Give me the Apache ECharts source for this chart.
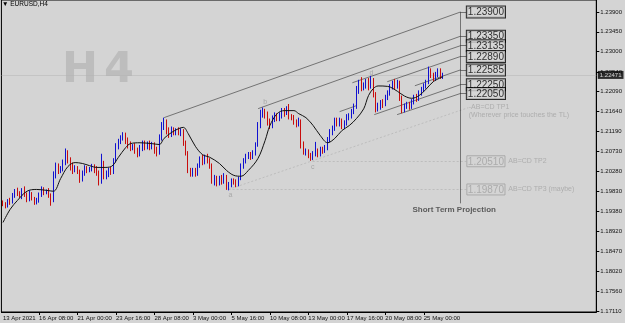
<!DOCTYPE html>
<html>
<head>
<meta charset="utf-8">
<title>EURUSD H4</title>
<script src="https://cdn.jsdelivr.net/npm/echarts@6.0.0/dist/echarts.min.js"></script>
<style>
    html, body { margin: 0; padding: 0; background: #d4d4d4; }
    #chart { width: 625px; height: 323px; }
</style>
</head>
<body>
<div id="chart"></div>
<script>
// bar 0 = 13 Apr 2021 20:00, one bar = 4 hours (no weekend bars)
var dateTicks = [15, 31, 47, 63, 79, 95, 111, 127, 143, 159, 175];
var dateLabels = ['16 Apr 08:00', '21 Apr 00:00', '23 Apr 16:00', '28 Apr 08:00', '3 May 00:00',
    '5 May 16:00', '10 May 08:00', '13 May 00:00', '17 May 16:00', '20 May 08:00', '25 May 00:00'];
var firstLabel = '13 Apr 2021';

var priceTicks = ['1.23900', '1.23450', '1.23000', '1.22540', '1.22090', '1.21640', '1.21190', '1.20730',
    '1.20280', '1.19830', '1.19380', '1.18920', '1.18470', '1.18020', '1.17560', '1.17110'];
var lastPrice = 1.22471;

// open, close, low, high
var ohlc = [
    [1.1958, 1.1953, 1.1949, 1.1962],
    [1.1953, 1.1948, 1.1944, 1.1958], [1.1948, 1.1962, 1.1946, 1.1965], [1.1962, 1.1958, 1.1952, 1.1968],
    [1.1958, 1.1975, 1.1955, 1.1979], [1.1975, 1.1981, 1.1968, 1.1988], [1.1981, 1.1979, 1.1972, 1.1991],
    [1.1979, 1.1972, 1.1968, 1.1983], [1.1972, 1.1984, 1.1965, 1.1990], [1.1984, 1.1976, 1.1970, 1.1994],
    [1.1976, 1.1965, 1.1958, 1.1980], [1.1965, 1.1977, 1.1960, 1.1985], [1.1977, 1.1966, 1.1962, 1.1981],
    [1.1966, 1.1958, 1.1952, 1.1970], [1.1958, 1.1962, 1.1953, 1.1968], [1.1962, 1.1975, 1.1957, 1.1980],
    [1.1975, 1.1988, 1.1970, 1.1994], [1.1988, 1.1980, 1.1974, 1.1992], [1.1980, 1.1983, 1.1976, 1.1987],
    [1.1983, 1.1975, 1.1968, 1.1990], [1.1975, 1.1962, 1.1950, 1.1978], [1.1962, 1.2020, 1.1958, 1.2028],
    [1.2020, 1.2040, 1.2012, 1.2048], [1.2040, 1.2030, 1.2022, 1.2046], [1.2030, 1.2034, 1.2024, 1.2040],
    [1.2034, 1.2048, 1.2028, 1.2055], [1.2048, 1.2072, 1.2042, 1.2080], [1.2072, 1.2055, 1.2046, 1.2076],
    [1.2055, 1.2040, 1.2030, 1.2060], [1.2040, 1.2032, 1.2022, 1.2048], [1.2032, 1.2035, 1.2026, 1.2042],
    [1.2035, 1.2028, 1.2022, 1.2040], [1.2028, 1.2010, 1.2002, 1.2032], [1.2010, 1.2022, 1.2005, 1.2030],
    [1.2022, 1.2035, 1.2018, 1.2042], [1.2035, 1.2030, 1.2024, 1.2040], [1.2030, 1.2034, 1.2026, 1.2038],
    [1.2034, 1.2038, 1.2028, 1.2045], [1.2038, 1.2032, 1.2024, 1.2044], [1.2032, 1.2025, 1.2018, 1.2040],
    [1.2025, 1.2004, 1.1996, 1.2030], [1.2004, 1.2045, 1.2000, 1.2068], [1.2045, 1.2016, 1.2010, 1.2052],
    [1.2016, 1.2022, 1.2010, 1.2030], [1.2022, 1.2030, 1.2015, 1.2036], [1.2030, 1.2026, 1.2020, 1.2038],
    [1.2026, 1.2052, 1.2022, 1.2058], [1.2052, 1.2085, 1.2048, 1.2092], [1.2085, 1.2097, 1.2078, 1.2102],
    [1.2097, 1.2104, 1.2090, 1.2110], [1.2104, 1.2112, 1.2098, 1.2117], [1.2112, 1.2098, 1.2090, 1.2116],
    [1.2098, 1.2090, 1.2080, 1.2105], [1.2090, 1.2082, 1.2074, 1.2096], [1.2082, 1.2085, 1.2076, 1.2090],
    [1.2085, 1.2075, 1.2068, 1.2092], [1.2075, 1.2066, 1.2060, 1.2082], [1.2066, 1.2080, 1.2062, 1.2088],
    [1.2080, 1.2092, 1.2074, 1.2098], [1.2092, 1.2082, 1.2076, 1.2098], [1.2082, 1.2092, 1.2078, 1.2096],
    [1.2092, 1.2084, 1.2076, 1.2098], [1.2084, 1.2090, 1.2078, 1.2095], [1.2090, 1.2078, 1.2068, 1.2094],
    [1.2078, 1.2070, 1.2062, 1.2084], [1.2070, 1.2105, 1.2066, 1.2112], [1.2105, 1.2130, 1.2098, 1.2140],
    [1.2130, 1.2138, 1.2122, 1.2150], [1.2138, 1.2120, 1.2112, 1.2146], [1.2120, 1.2112, 1.2104, 1.2128],
    [1.2112, 1.2122, 1.2106, 1.2130], [1.2122, 1.2116, 1.2110, 1.2128], [1.2116, 1.2121, 1.2110, 1.2126],
    [1.2121, 1.2116, 1.2110, 1.2128], [1.2116, 1.2120, 1.2108, 1.2126], [1.2120, 1.2092, 1.2086, 1.2124],
    [1.2092, 1.2070, 1.2064, 1.2098], [1.2070, 1.2030, 1.2024, 1.2074], [1.2030, 1.2020, 1.2016, 1.2036],
    [1.2020, 1.2030, 1.2016, 1.2036], [1.2030, 1.2022, 1.2016, 1.2036], [1.2022, 1.2040, 1.2018, 1.2046],
    [1.2040, 1.2055, 1.2036, 1.2062], [1.2055, 1.2048, 1.2042, 1.2066], [1.2048, 1.2060, 1.2044, 1.2066],
    [1.2060, 1.2052, 1.2046, 1.2068], [1.2052, 1.2040, 1.2034, 1.2058], [1.2040, 1.2008, 1.2000, 1.2046],
    [1.2008, 1.2014, 1.1996, 1.2020], [1.2014, 1.2002, 1.1994, 1.2018], [1.2002, 1.2013, 1.1996, 1.2018],
    [1.2013, 1.2006, 1.1998, 1.2020], [1.2006, 1.2016, 1.2000, 1.2024], [1.2016, 1.1994, 1.1986, 1.2020],
    [1.1994, 1.1998, 1.1985, 1.2004], [1.1998, 1.2008, 1.1992, 1.2012], [1.2008, 1.2005, 1.1998, 1.2012],
    [1.2005, 1.2000, 1.1992, 1.2010], [1.2000, 1.2012, 1.1994, 1.2016], [1.2012, 1.2040, 1.2008, 1.2046],
    [1.2040, 1.2052, 1.2034, 1.2058], [1.2052, 1.2062, 1.2046, 1.2068], [1.2062, 1.2066, 1.2056, 1.2072],
    [1.2066, 1.2060, 1.2054, 1.2072], [1.2060, 1.2070, 1.2056, 1.2076], [1.2070, 1.2088, 1.2064, 1.2094],
    [1.2088, 1.2132, 1.2084, 1.2140], [1.2132, 1.2160, 1.2126, 1.2168], [1.2160, 1.2163, 1.2150, 1.2173],
    [1.2163, 1.2156, 1.2148, 1.2170], [1.2156, 1.2140, 1.2132, 1.2164], [1.2140, 1.2130, 1.2124, 1.2148],
    [1.2130, 1.2148, 1.2126, 1.2155], [1.2148, 1.2155, 1.2140, 1.2162], [1.2155, 1.2148, 1.2142, 1.2160],
    [1.2148, 1.2155, 1.2142, 1.2162], [1.2155, 1.2166, 1.2148, 1.2172], [1.2166, 1.2160, 1.2152, 1.2172],
    [1.2160, 1.2168, 1.2156, 1.2176], [1.2168, 1.2152, 1.2146, 1.2181], [1.2152, 1.2150, 1.2144, 1.2158],
    [1.2150, 1.2140, 1.2134, 1.2156], [1.2140, 1.2136, 1.2128, 1.2146], [1.2136, 1.2140, 1.2130, 1.2150],
    [1.2140, 1.2090, 1.2080, 1.2146], [1.2090, 1.2072, 1.2066, 1.2096], [1.2072, 1.2074, 1.2064, 1.2080],
    [1.2074, 1.2066, 1.2058, 1.2078], [1.2066, 1.2060, 1.2052, 1.2070], [1.2060, 1.2068, 1.2054, 1.2074],
    [1.2068, 1.2074, 1.2062, 1.2095], [1.2074, 1.2066, 1.2060, 1.2080], [1.2066, 1.2079, 1.2062, 1.2084],
    [1.2079, 1.2074, 1.2068, 1.2084], [1.2074, 1.2082, 1.2070, 1.2088], [1.2082, 1.2100, 1.2076, 1.2106],
    [1.2100, 1.2118, 1.2094, 1.2124], [1.2118, 1.2126, 1.2110, 1.2132], [1.2126, 1.2144, 1.2120, 1.2150],
    [1.2144, 1.2136, 1.2130, 1.2150], [1.2136, 1.2142, 1.2130, 1.2150], [1.2142, 1.2130, 1.2124, 1.2148],
    [1.2130, 1.2138, 1.2124, 1.2144], [1.2138, 1.2150, 1.2132, 1.2158], [1.2150, 1.2153, 1.2144, 1.2160],
    [1.2153, 1.2164, 1.2148, 1.2170], [1.2164, 1.2176, 1.2158, 1.2182], [1.2176, 1.2212, 1.2170, 1.2222],
    [1.2212, 1.2226, 1.2204, 1.2236], [1.2226, 1.2218, 1.2210, 1.2242], [1.2218, 1.2224, 1.2212, 1.2230],
    [1.2224, 1.2232, 1.2216, 1.2238], [1.2232, 1.2220, 1.2212, 1.2240], [1.2220, 1.2236, 1.2216, 1.2245],
    [1.2236, 1.2204, 1.2196, 1.2240], [1.2204, 1.2172, 1.2162, 1.2208], [1.2172, 1.2174, 1.2164, 1.2184],
    [1.2174, 1.2184, 1.2168, 1.2190], [1.2184, 1.2180, 1.2172, 1.2192], [1.2180, 1.2196, 1.2176, 1.2202],
    [1.2196, 1.2206, 1.2190, 1.2212], [1.2206, 1.2220, 1.2200, 1.2226], [1.2220, 1.2228, 1.2214, 1.2234],
    [1.2228, 1.2222, 1.2214, 1.2238], [1.2222, 1.2230, 1.2216, 1.2236], [1.2230, 1.2196, 1.2188, 1.2234],
    [1.2196, 1.2168, 1.2160, 1.2200], [1.2168, 1.2176, 1.2162, 1.2182], [1.2176, 1.2180, 1.2170, 1.2186],
    [1.2180, 1.2176, 1.2168, 1.2186], [1.2176, 1.2186, 1.2170, 1.2192], [1.2186, 1.2196, 1.2180, 1.2202],
    [1.2196, 1.2192, 1.2186, 1.2204], [1.2192, 1.2206, 1.2188, 1.2212], [1.2206, 1.2213, 1.2200, 1.2220],
    [1.2213, 1.2222, 1.2208, 1.2228], [1.2222, 1.2230, 1.2216, 1.2236], [1.2230, 1.2258, 1.2226, 1.2266],
    [1.2258, 1.2246, 1.2240, 1.2262], [1.2246, 1.2238, 1.2232, 1.2252], [1.2238, 1.2248, 1.2234, 1.2254],
    [1.2248, 1.2256, 1.2242, 1.2262], [1.2256, 1.2244, 1.2238, 1.2262], [1.2244, 1.2247, 1.2238, 1.2252]
];

// moving average: [bar, price]
var maPoints = [
    [0, 1.1912], [3, 1.1942], [6, 1.1962], [10, 1.1983], [14, 1.1987], [18, 1.1985], [21, 1.1983],
    [24, 1.2012], [27, 1.2039], [30, 1.2048], [33, 1.2046], [36, 1.2041], [39, 1.2037], [42, 1.2037],
    [45, 1.2039], [48, 1.2060], [51, 1.2082], [53, 1.2091], [57, 1.2093], [62, 1.2091], [65, 1.2089],
    [67, 1.2103], [70, 1.2116], [73, 1.2125], [75, 1.2128], [77, 1.2114], [80, 1.2085], [83, 1.2066],
    [86, 1.2060], [90, 1.2046], [93, 1.2030], [96, 1.2019], [99, 1.2017], [102, 1.2030], [106, 1.2057],
    [109, 1.2098], [111, 1.2132], [114, 1.2159], [117, 1.2166], [121, 1.2166], [123, 1.2159], [126, 1.2150],
    [129, 1.2132], [132, 1.2109], [135, 1.2093], [138, 1.2103], [141, 1.2121], [144, 1.2132], [147, 1.2148],
    [150, 1.2170], [152, 1.2200], [154, 1.2216], [156, 1.2222], [160, 1.2221], [164, 1.2210], [167, 1.2199],
    [170, 1.2194], [173, 1.2200], [176, 1.2215], [179, 1.2232], [183, 1.2243]
];

// trend lines: [bar1, price1, bar2, price2]
var trendLines = [
    [67.0, 1.21501, 190.3, 1.23900],
    [106.1, 1.21705, 190.3, 1.23350],
    [145.3, 1.22293, 190.3, 1.23135],
    [159.8, 1.22316, 190.3, 1.22890],
    [171.3, 1.22225, 190.3, 1.22585],
    [154.4, 1.21569, 190.3, 1.22250],
    [163.9, 1.21569, 190.3, 1.22050],
    [140.0, 1.21637, 147.0, 1.21773]
];
var projBar = 190.3;
var boxBar = 192.7;
var projLevels = [1.23900, 1.23350, 1.23135, 1.22890, 1.22585, 1.22250, 1.22050];
var projBottom = 1.19555;

// AB=CD targets, dotted
var dottedLines = [
    [93.8, 1.19871, 193.5, 1.21727],
    [93.8, 1.19870, 192.7, 1.19870],
    [128.8, 1.20510, 192.7, 1.20510]
];
var tpLevels = [1.20510, 1.19870];
var tpNames = ['AB=CD TP2', 'AB=CD TP3 (maybe)'];

var waveLabels = [[94.6, 1.19735, 'a'], [109.0, 1.21863, 'b'], [128.8, 1.20369, 'c'], [153.2, 1.22519, 'd']];

var xMin = -0.65, xMax = 246.75;
var yMin = 1.17087, yMax = 1.24172;
var font = 'Liberation Sans';
var myChart = echarts.init(document.getElementById('chart'));

var candleData = ohlc.map(function (d, i) {
    return [i, d[0], d[1], d[2], d[3]];
});

function seg(l) {
    return { coords: [[l[0], l[1]], [l[2], l[3]]] };
}

var blackLines = trendLines.map(seg);
blackLines.push(seg([projBar, projLevels[0], projBar, projBottom]));
projLevels.forEach(function (p) {
    blackLines.push(seg([projBar, p, boxBar, p]));
});

var notes = [];
projLevels.forEach(function (p) {
    notes.push({
        value: [boxBar, p],
        label: {
            formatter: p.toFixed(5), fontSize: 10, color: '#000', fontFamily: font,
            borderColor: '#000', borderWidth: 1, padding: [1, 1, 0, 1], backgroundColor: '#d4d4d4'
        }
    });
});
tpLevels.forEach(function (p, i) {
    notes.push({
        value: [boxBar, p],
        label: { formatter: '{b|' + p.toFixed(5) + '} {t|' + tpNames[i] + '}' }
    });
});
notes.push({
    value: [193.5, 1.21650],
    label: {
        formatter: '-AB=CD TP1\n{t|(Wherever price touches the TL)}',
        fontSize: 7, color: '#a4a4a4', lineHeight: 8, fontFamily: font
    }
});
notes.push({
    value: [170.1, 1.19419],
    label: {
        formatter: 'Short Term Projection', fontSize: 8, fontWeight: 'bold',
        color: '#3c3c3c', fontFamily: font
    }
});
waveLabels.forEach(function (w) {
    notes.push({
        value: [w[0], w[1]],
        label: { formatter: w[2], position: 'inside', fontSize: 7, color: '#9c9c9c', fontFamily: font }
    });
});
// current price tag on the price scale
notes.push({
    value: [xMax, lastPrice],
    label: {
        formatter: lastPrice.toFixed(5), distance: 1, backgroundColor: '#000', color: '#fff',
        fontSize: 6, padding: [1, 2, 1, 2], fontFamily: font
    }
});

var option = {
    backgroundColor: '#d4d4d4',
    animation: false,
    // left/top pushed off-canvas so only the right and bottom frame edges show
    grid: { left: -1, right: 26, top: -1, bottom: 11, show: true, borderColor: '#000', borderWidth: 1 },
    graphic: [
        {
            type: 'text', left: 2, top: 1,
            style: { text: '\u25BC EURUSD,H4', fontSize: 6.5, fill: '#000', fontFamily: font }
        },
        {
            type: 'text', left: 62, top: 49,
            style: { text: 'H', fontSize: 43, fontWeight: 'bold', fill: '#bdbdbd', fontFamily: 'DejaVu Sans' }
        },
        {
            type: 'text', left: 104, top: 49,
            style: { text: '4', fontSize: 43, fontWeight: 'bold', fill: '#bdbdbd', fontFamily: 'DejaVu Sans' }
        }
    ],
    xAxis: {
        type: 'value',
        min: xMin,
        max: xMax,
        splitLine: { show: false },
        axisLine: { onZero: false, lineStyle: { color: '#000', width: 1 } },
        axisTick: { show: true, length: 3, customValues: dateTicks, lineStyle: { color: '#000' } },
        axisLabel: {
            customValues: [0].concat(dateTicks),
            align: 'left',
            margin: 3,
            fontSize: 6,
            color: '#111',
            fontFamily: font,
            formatter: function (v) {
                if (v === 0) return firstLabel;
                var k = dateTicks.indexOf(v);
                return k >= 0 ? dateLabels[k] : '';
            }
        }
    },
    yAxis: {
        type: 'value',
        position: 'right',
        min: yMin,
        max: yMax,
        splitLine: { show: false },
        axisLine: { show: true, onZero: false, lineStyle: { color: '#000', width: 1 } },
        axisTick: { show: true, length: 3, customValues: priceTicks.map(Number), lineStyle: { color: '#000' } },
        axisLabel: {
            customValues: priceTicks.map(Number),
            margin: 4,
            fontSize: 6,
            color: '#111',
            fontFamily: font,
            formatter: function (v) { return v.toFixed(5); }
        }
    },
    series: [
        {
            // bid line
            type: 'lines',
            coordinateSystem: 'cartesian2d',
            z: 1,
            lineStyle: { color: '#b4b4b4', width: 1 },
            data: [seg([xMin, lastPrice, xMax, lastPrice])]
        },
        {
            type: 'lines',
            coordinateSystem: 'cartesian2d',
            z: 1,
            lineStyle: { color: '#a6a6a6', width: 1, type: [2, 2] },
            data: dottedLines.map(seg)
        },
        {
            type: 'candlestick',
            data: candleData,
            barWidth: 1.2,
            itemStyle: {
                color: '#1010d0', color0: '#c80c0c',
                borderColor: '#1010d0', borderColor0: '#c80c0c', borderWidth: 1
            }
        },
        {
            type: 'line',
            data: maPoints,
            smooth: 0.35,
            showSymbol: false,
            lineStyle: { color: '#111', width: 1 }
        },
        {
            type: 'lines',
            coordinateSystem: 'cartesian2d',
            lineStyle: { color: '#111', width: 1 },
            data: blackLines
        },
        {
            type: 'scatter',
            symbolSize: 1,
            z: 5,
            itemStyle: { color: 'rgba(0,0,0,0)' },
            label: {
                show: true,
                position: 'right',
                distance: 0,
                fontFamily: font,
                rich: {
                    b: {
                        fontSize: 10, color: '#a0a0a0', borderColor: '#a0a0a0', borderWidth: 1,
                        padding: [1, 1, 0, 1], fontFamily: font
                    },
                    t: { fontSize: 7, color: '#a4a4a4', fontFamily: font }
                }
            },
            data: notes
        }
    ]
};

option && myChart.setOption(option);
</script>
</body>
</html>
